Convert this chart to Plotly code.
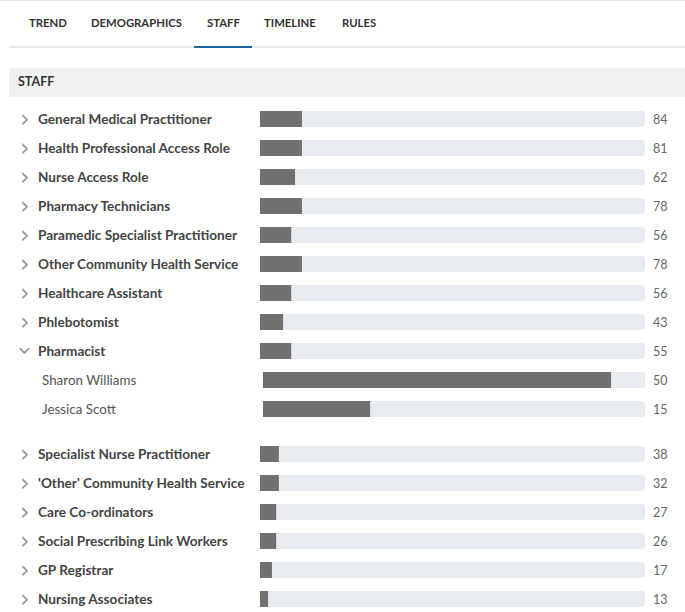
import plotly.graph_objects as go

# ---- data ----
tabs = ["TREND", "DEMOGRAPHICS", "STAFF", "TIMELINE", "RULES"]
active_tab = "STAFF"
section_title = "STAFF"

roles_top = ["General Medical Practitioner", "Health Professional Access Role", "Nurse Access Role",
             "Pharmacy Technicians", "Paramedic Specialist Practitioner", "Other Community Health Service",
             "Healthcare Assistant", "Phlebotomist", "Pharmacist"]
counts_top = [84, 81, 62, 78, 56, 78, 56, 43, 55]
share_top = [10.9, 10.9, 9.1, 10.9, 8.1, 10.9, 8.1, 6.0, 8.1]

expanded_role = "Pharmacist"
members = ["Sharon Williams", "Jessica Scott"]
member_counts = [50, 15]
member_share = [91, 28]

roles_bottom = ["Specialist Nurse Practitioner", "'Other' Community Health Service", "Care Co-ordinators",
                "Social Prescribing Link Workers", "GP Registrar", "Nursing Associates"]
counts_bottom = [38, 32, 27, 26, 17, 13]
share_bottom = [4.9, 4.9, 4.2, 4.2, 3.1, 2.1]

# ---- layout helpers ----
W, H = 685, 612
ROW = 29.0                 # px per row
FIRST = 119.0              # px centre of first row
GAP = 16.0 / ROW           # extra gap after expanded group
BARW = 16.0 / ROW


def px(v):
    return v / W


def py(v):
    return 1 - v / H


parent_names = roles_top + roles_bottom
parent_counts = counts_top + counts_bottom
parent_share = share_top + share_bottom
parent_pos = list(range(len(roles_top))) + [len(roles_top) + len(members) + GAP + i for i in range(len(roles_bottom))]
member_pos = [len(roles_top) + i for i in range(len(members))]

FONT = "Source Sans Pro, Lato, Noto Sans, sans-serif"
DARK = "#707070"
TRACK = "#e8ecf0"

fig = go.Figure()
fig.add_trace(go.Bar(x=[100] * len(parent_names), y=parent_pos, orientation="h", width=BARW,
                     marker=dict(color=TRACK, cornerradius=4, line=dict(width=0)),
                     xaxis="x", yaxis="y", hoverinfo="skip", showlegend=False))
fig.add_trace(go.Bar(x=parent_share, y=parent_pos, orientation="h", width=BARW,
                     marker=dict(color=DARK, line=dict(width=0)),
                     xaxis="x", yaxis="y", hovertext=parent_names, showlegend=False))
fig.add_trace(go.Bar(x=[100] * len(members), y=member_pos, orientation="h", width=BARW,
                     marker=dict(color=TRACK, cornerradius=4, line=dict(width=0)),
                     xaxis="x2", yaxis="y", hoverinfo="skip", showlegend=False))
fig.add_trace(go.Bar(x=member_share, y=member_pos, orientation="h", width=BARW,
                     marker=dict(color=DARK, line=dict(width=0)),
                     xaxis="x2", yaxis="y", hovertext=members, showlegend=False))

ann = []
for name, cnt, p in zip(parent_names, parent_counts, parent_pos):
    ann.append(dict(text=name, x=px(37), xref="paper", y=p, yref="y", xanchor="left", yanchor="middle",
                    showarrow=False, borderpad=0,
                    font=dict(family=FONT, size=13.6, color="#444444", weight="bold")))
    ann.append(dict(text=str(cnt), x=px(652), xref="paper", y=p, yref="y", xanchor="left", yanchor="middle",
                    showarrow=False, borderpad=0, font=dict(family=FONT, size=12.5, color="#666666")))
    ann.append(dict(text="›", x=px(25), xref="paper", y=p, yref="y", xanchor="center", yanchor="middle",
                    showarrow=False, textangle=90 if name == expanded_role else 0,
                    font=dict(family="DejaVu Sans", size=24, color="#999999")))
for name, cnt, p in zip(members, member_counts, member_pos):
    ann.append(dict(text=name, x=px(41), xref="paper", y=p, yref="y", xanchor="left", yanchor="middle",
                    showarrow=False, borderpad=0, font=dict(family=FONT, size=13.4, color="#555555")))
    ann.append(dict(text=str(cnt), x=px(652), xref="paper", y=p, yref="y", xanchor="left", yanchor="middle",
                    showarrow=False, borderpad=0, font=dict(family=FONT, size=12.5, color="#666666")))

tab_centers = [48, 136.5, 223, 290, 359.5]
for t, cx in zip(tabs, tab_centers):
    ann.append(dict(text=t, x=px(cx), xref="paper", y=py(23), yref="paper", xanchor="center",
                    yanchor="middle", showarrow=False,
                    font=dict(family=FONT, size=11.3, color="#333333", weight="bold")))
ann.append(dict(text=section_title, x=px(17), xref="paper", y=py(82), yref="paper", xanchor="left",
                yanchor="middle", showarrow=False, borderpad=0,
                font=dict(family=FONT, size=12.5, color="#333333", weight="bold")))

shapes = [
    dict(type="line", xref="paper", yref="paper", x0=0, x1=1, y0=py(0.5), y1=py(0.5),
         line=dict(color="#e6e9ec", width=1)),
    dict(type="line", xref="paper", yref="paper", x0=px(9), x1=1, y0=py(47), y1=py(47),
         line=dict(color="#e3e6ea", width=2)),
    dict(type="line", xref="paper", yref="paper", x0=px(194), x1=px(252), y0=py(47), y1=py(47),
         line=dict(color="#1f63a0", width=2)),
    dict(type="rect", xref="paper", yref="paper", x0=px(9), x1=1, y0=py(97), y1=py(68),
         fillcolor="#f0f1f3", line=dict(width=0), layer="below"),
]

fig.update_layout(
    width=W, height=H, margin=dict(l=0, r=0, t=0, b=0),
    paper_bgcolor="white", plot_bgcolor="rgba(0,0,0,0)",
    barmode="overlay", showlegend=False,
    xaxis=dict(domain=[px(260), px(645)], range=[0, 100], visible=False, fixedrange=True),
    xaxis2=dict(domain=[px(263), px(645.5)], range=[0, 100], visible=False, fixedrange=True, anchor="y"),
    yaxis=dict(range=[(H - FIRST) / ROW, -FIRST / ROW], visible=False, fixedrange=True, domain=[0, 1]),
    annotations=ann, shapes=shapes,
)

fig.write_html("out.html", config={"displayModeBar": False},
               post_script="document.body.style.margin='0';document.body.style.overflow='hidden';")
